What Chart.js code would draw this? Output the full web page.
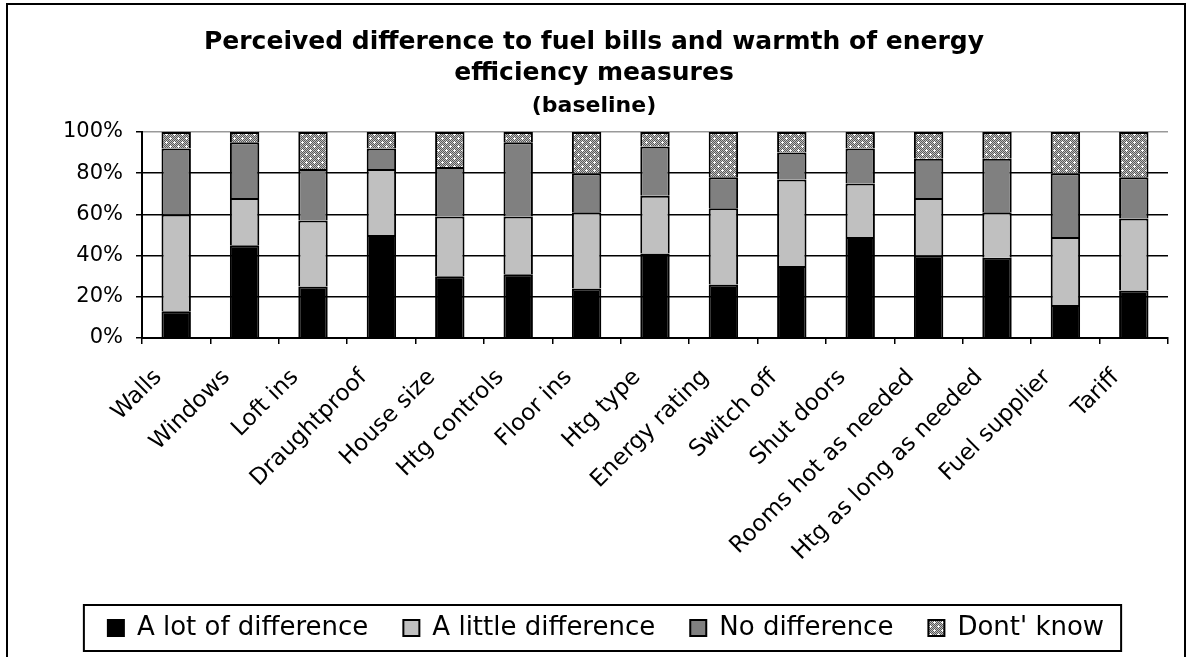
<!DOCTYPE html>
<html>
<head>
<meta charset="utf-8">
<script src="https://cdn.jsdelivr.net/npm/chart.js@4"></script>
<style>
  html, body { margin: 0; padding: 0; background: #fff; overflow: hidden; }
  #wrap { position: relative; width: 1188px; height: 657px; }
  #frame { position: absolute; left: 6px; top: 3px; width: 1176px; height: 680px;
           border: 2px solid #000; pointer-events: none; }
</style>
</head>
<body>
<div id="wrap">
  <canvas id="chart" width="1188" height="657"></canvas>
  <div id="frame"></div>
</div>
<script>
// categories and series (percent of respondents)
const categories = ['Walls', 'Windows', 'Loft ins', 'Draughtproof', 'House size', 'Htg controls',
  'Floor ins', 'Htg type', 'Energy rating', 'Switch off', 'Shut doors', 'Rooms hot as needed',
  'Htg as long as needed', 'Fuel supplier', 'Tariff'];
const seriesNames = ['A lot of difference', 'A little difference', 'No difference', "Dont' know"];
const aLot     = [13, 45, 25, 50, 30, 31, 24, 41, 26, 35, 49, 40, 39, 16, 23];
const aLittle  = [47, 23, 32, 32, 29, 28, 37, 28, 37, 42, 26, 28, 22, 33, 35];
const noDiff   = [32, 27, 25, 10, 24, 36, 19, 24, 15, 13, 17, 19, 26, 31, 20];
const dontKnow = [ 8,  5, 18,  8, 17,  5, 20,  7, 22, 10,  8, 13, 13, 20, 22];
const yTicks = [0, 10, 20, 30, 40, 50, 60, 70, 80, 90, 100];

// dotted fill for the "don't know" segments
function makePattern() {
  const c = document.createElement('canvas');
  c.width = 8; c.height = 8;
  const g = c.getContext('2d');
  for (let y = 0; y < 8; y++) {
    for (let x = 0; x < 8; x++) {
      g.fillStyle = (x + y) % 2 === 0 ? '#595959' : '#bdbdbd';
      g.fillRect(x, y, 1, 1);
    }
  }
  g.fillStyle = '#ffffff';
  g.fillRect(2, 1, 1, 3);
  g.fillRect(1, 2, 3, 1);
  g.fillRect(6, 5, 1, 3);
  g.fillRect(5, 6, 3, 1);
  return g.createPattern(c, 'repeat');
}

const font = 'DejaVu Sans, Verdana, sans-serif';
Chart.defaults.font.family = font;
Chart.defaults.color = '#000';

// legend sits a little right of centre, with a box round it
const legendBox = {
  id: 'legendBox',
  afterLayout(chart) {
    const lg = chart.legend;
    if (lg) { lg.left += 12; lg.right += 12; }
  },
  afterDraw(chart) {
    const lg = chart.legend;
    if (!lg || !lg.legendHitBoxes.length) return;
    const hb = lg.legendHitBoxes;
    const first = hb[0], last = hb[hb.length - 1];
    const cy = first.top + first.height / 2;
    const ctx = chart.ctx;
    ctx.save();
    ctx.strokeStyle = '#000';
    ctx.lineWidth = 2;
    ctx.strokeRect(first.left - 24, cy - 23, last.left + last.width - first.left + 41, 46);
    ctx.restore();
  }
};

const pattern = makePattern();
const fills = ['#000000', '#c0c0c0', '#808080', pattern];
const values = [aLot, aLittle, noDiff, dontKnow];

new Chart(document.getElementById('chart'), {
  type: 'bar',
  data: {
    labels: categories,
    datasets: seriesNames.map((name, i) => ({
      label: name,
      data: values[i],
      backgroundColor: fills[i],
      borderColor: '#000',
      borderWidth: 2,
      categoryPercentage: 1,
      barPercentage: 0.43
    }))
  },
  plugins: [legendBox],
  options: {
    responsive: false,
    animation: false,
    layout: { padding: { top: 16, left: 20, right: 20, bottom: 6 } },
    plugins: {
      title: {
        display: true,
        text: ['Perceived difference to fuel bills and warmth of energy', 'efficiency measures'],
        font: { size: 25, weight: 'bold', lineHeight: '31px' },
        color: '#000',
        padding: { top: 11, bottom: 0 }
      },
      subtitle: {
        display: true,
        text: '(baseline)',
        font: { size: 22, weight: 'bold', lineHeight: '22px' },
        color: '#000',
        padding: { top: 6, bottom: 15 }
      },
      legend: {
        position: 'bottom',
        labels: { boxWidth: 16, boxHeight: 16, padding: 35, font: { size: 26 }, color: '#000' }
      },
      tooltip: { enabled: false }
    },
    scales: {
      x: {
        stacked: true,
        afterFit(scale) { scale.height = 242; },
        grid: {
          offset: true,
          color: ctx => ctx.index === categories.length ? '#999' : 'rgba(0,0,0,0)',
          tickColor: '#000',
          tickLength: 6,
          lineWidth: 1.5
        },
        border: { color: '#000', width: 2 },
        ticks: { autoSkip: false, maxRotation: 45, minRotation: 45, font: { size: 23 }, color: '#000',
                 padding: 20, labelOffset: -18 }
      },
      y: {
        stacked: true,
        min: 0,
        max: 100,
        afterFit(scale) { scale.width = 122; },
        afterBuildTicks(scale) { scale.ticks = yTicks.map(v => ({ value: v })); },
        grid: {
          color: ctx => ctx.tick && ctx.tick.value === 100 ? '#999' : '#000',
          tickColor: '#000',
          tickLength: 6,
          lineWidth: 1.5
        },
        border: { color: '#000', width: 2 },
        ticks: { callback: v => v + '%', font: { size: 21 }, color: '#000', padding: 13 }
      }
    }
  }
});
</script>
</body>
</html>
